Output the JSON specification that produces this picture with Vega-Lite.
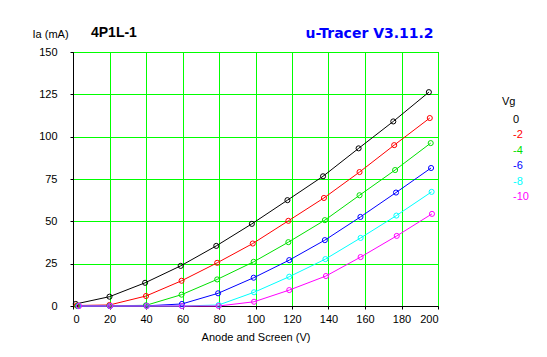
{
  "$schema": "https://vega.github.io/schema/vega-lite/v6.json",
  "width": 365,
  "height": 254,
  "autosize": {"type": "none"},
  "padding": {"left": 73, "top": 52, "right": 109, "bottom": 51},
  "background": "white",
  "title": {
    "text": "4P1L-1",
    "anchor": "start",
    "frame": "group",
    "dx": 18,
    "offset": -14,
    "font": "Liberation Sans",
    "fontSize": 14,
    "fontWeight": "bold",
    "color": "black"
  },
  "config": {
    "view": {"stroke": "black", "strokeWidth": 1},
    "font": "Liberation Sans",
    "axis": {
      "labelFont": "Liberation Sans",
      "labelFontSize": 11,
      "labelColor": "black",
      "titleFont": "Liberation Sans",
      "titleFontSize": 11,
      "titleFontWeight": "normal",
      "titleColor": "black",
      "domainColor": "black",
      "tickColor": "black",
      "gridColor": "#00FF00",
      "gridOpacity": 1,
      "gridWidth": 1
    }
  },
  "data": {
    "values": [
      {"v": 1.5, "ia": 1.2, "vg": "0"},
      {"v": 20, "ia": 5.5, "vg": "0"},
      {"v": 39.5, "ia": 13.7, "vg": "0"},
      {"v": 59, "ia": 23.7, "vg": "0"},
      {"v": 78.5, "ia": 35.5, "vg": "0"},
      {"v": 98, "ia": 48.5, "vg": "0"},
      {"v": 117.5, "ia": 62.5, "vg": "0"},
      {"v": 137, "ia": 76.6, "vg": "0"},
      {"v": 156.5, "ia": 93.1, "vg": "0"},
      {"v": 175.5, "ia": 109, "vg": "0"},
      {"v": 195, "ia": 126.3, "vg": "0"},
      {"v": 2, "ia": 0.3, "vg": "-2"},
      {"v": 20, "ia": 0.6, "vg": "-2"},
      {"v": 40, "ia": 5.9, "vg": "-2"},
      {"v": 59.5, "ia": 14.9, "vg": "-2"},
      {"v": 79, "ia": 25.5, "vg": "-2"},
      {"v": 98.5, "ia": 36.9, "vg": "-2"},
      {"v": 118, "ia": 50.3, "vg": "-2"},
      {"v": 137.5, "ia": 63.8, "vg": "-2"},
      {"v": 157, "ia": 79.1, "vg": "-2"},
      {"v": 176, "ia": 95, "vg": "-2"},
      {"v": 195.5, "ia": 111, "vg": "-2"},
      {"v": 2.5, "ia": 0, "vg": "-4"},
      {"v": 20, "ia": 0.1, "vg": "-4"},
      {"v": 40, "ia": 0.4, "vg": "-4"},
      {"v": 59.5, "ia": 6.7, "vg": "-4"},
      {"v": 79, "ia": 15.7, "vg": "-4"},
      {"v": 99, "ia": 26.1, "vg": "-4"},
      {"v": 118, "ia": 37.7, "vg": "-4"},
      {"v": 138, "ia": 50.7, "vg": "-4"},
      {"v": 157, "ia": 65.4, "vg": "-4"},
      {"v": 176.5, "ia": 80.3, "vg": "-4"},
      {"v": 196, "ia": 96.2, "vg": "-4"},
      {"v": 3, "ia": 0, "vg": "-6"},
      {"v": 20.3, "ia": 0, "vg": "-6"},
      {"v": 40.3, "ia": 0.1, "vg": "-6"},
      {"v": 59.7, "ia": 1.2, "vg": "-6"},
      {"v": 79.5, "ia": 7.5, "vg": "-6"},
      {"v": 99, "ia": 16.7, "vg": "-6"},
      {"v": 118.5, "ia": 27.1, "vg": "-6"},
      {"v": 138, "ia": 38.9, "vg": "-6"},
      {"v": 157.5, "ia": 52.6, "vg": "-6"},
      {"v": 177, "ia": 67, "vg": "-6"},
      {"v": 196.2, "ia": 81.5, "vg": "-6"},
      {"v": 3, "ia": 0, "vg": "-8"},
      {"v": 20.3, "ia": 0, "vg": "-8"},
      {"v": 40.4, "ia": 0, "vg": "-8"},
      {"v": 59.7, "ia": 0, "vg": "-8"},
      {"v": 79.8, "ia": 0.6, "vg": "-8"},
      {"v": 99.2, "ia": 8.1, "vg": "-8"},
      {"v": 118.5, "ia": 17.3, "vg": "-8"},
      {"v": 138.3, "ia": 27.7, "vg": "-8"},
      {"v": 157.6, "ia": 40.2, "vg": "-8"},
      {"v": 177.2, "ia": 53.4, "vg": "-8"},
      {"v": 196.5, "ia": 67.4, "vg": "-8"},
      {"v": 3.3, "ia": 0, "vg": "-10"},
      {"v": 20.3, "ia": 0, "vg": "-10"},
      {"v": 40.4, "ia": 0, "vg": "-10"},
      {"v": 59.7, "ia": 0, "vg": "-10"},
      {"v": 79.8, "ia": 0, "vg": "-10"},
      {"v": 99.2, "ia": 2.5, "vg": "-10"},
      {"v": 118.5, "ia": 9.4, "vg": "-10"},
      {"v": 138.6, "ia": 17.7, "vg": "-10"},
      {"v": 157.6, "ia": 28.9, "vg": "-10"},
      {"v": 177.4, "ia": 41.4, "vg": "-10"},
      {"v": 196.7, "ia": 54.4, "vg": "-10"}
    ]
  },
  "encoding": {
    "y": {
      "field": "ia",
      "type": "quantitative",
      "scale": {"domain": [0, 150], "nice": false},
      "axis": {
        "values": [0, 25, 50, 75, 100, 125, 150],
        "tickSize": 3,
        "labelPadding": 13,
        "title": "Ia (mA)",
        "titleAngle": 0,
        "titleAlign": "left",
        "titleBaseline": "alphabetic",
        "titleX": -41,
        "titleY": -15
      }
    },
    "color": {
      "field": "vg",
      "type": "nominal",
      "scale": {
        "domain": ["0", "-2", "-4", "-6", "-8", "-10"],
        "range": ["#000000", "#FF0000", "#00E000", "#0000FF", "#00FFFF", "#FF00FF"]
      },
      "legend": {
        "orient": "none",
        "legendX": 429,
        "legendY": 44,
        "padding": 0,
        "title": "Vg",
        "titleFont": "Liberation Sans",
        "titleFontSize": 11,
        "titleFontWeight": "normal",
        "titleColor": "black",
        "titlePadding": 7,
        "labelFont": "Liberation Sans",
        "labelFontSize": 11,
        "labelOffset": 0,
        "symbolSize": 0,
        "symbolStrokeWidth": 0,
        "symbolOpacity": 0,
        "rowPadding": 3.5,
        "encode": {"labels": {"update": {"fill": {"scale": "color", "field": "value"}}}}
      }
    }
  },
  "layer": [
    {
      "mark": {"type": "line", "strokeWidth": 1},
      "encoding": {
        "x": {
          "field": "v",
          "type": "quantitative",
          "scale": {"domain": [0, 200], "nice": false},
          "axis": {
            "values": [0, 20, 40, 60, 80, 100, 120, 140, 160, 180, 200],
            "tickSize": 3,
            "labelPadding": 4,
            "title": "Anode and Screen (V)",
            "titlePadding": 7
          }
        }
      }
    },
    {
      "mark": {"type": "point", "filled": false, "size": 26, "strokeWidth": 1, "opacity": 1},
      "encoding": {
        "x": {
          "field": "v",
          "type": "quantitative",
          "axis": {
            "orient": "top",
            "labels": false,
            "ticks": false,
            "domain": false,
            "grid": false,
            "title": "u-Tracer V3.11.2",
            "titleColor": "#0000FF",
            "titleFont": "DejaVu Sans",
            "titleFontSize": 14,
            "titleFontWeight": "bold",
            "titleAlign": "left",
            "titleBaseline": "alphabetic",
            "titleX": 232,
            "titleY": -15
          }
        }
      }
    }
  ],
  "resolve": {"axis": {"x": "independent"}}
}
